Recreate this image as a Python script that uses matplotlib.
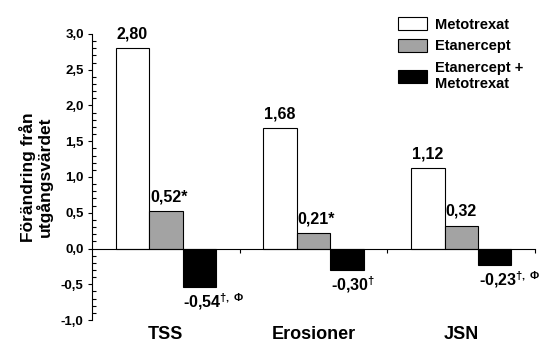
import matplotlib.pyplot as plt
import numpy as np

plt.rcParams['font.family'] = ['Liberation Sans', 'DejaVu Sans']
plt.rcParams['font.weight'] = 'bold'
plt.rcParams['mathtext.fontset'] = 'custom'
plt.rcParams['mathtext.rm'] = 'Liberation Sans:bold'
plt.rcParams['mathtext.bf'] = 'Liberation Sans:bold'

categories = ['TSS', 'Erosioner', 'JSN']
series = ['Metotrexat', 'Etanercept', 'Etanercept +\nMetotrexat']
metotrexat = [2.80, 1.68, 1.12]
etanercept = [0.52, 0.21, 0.32]
kombination = [-0.54, -0.30, -0.23]
labels_mtx = ['2,80', '1,68', '1,12']
labels_eta = ['0,52*', '0,21*', '0,32']
labels_komb = [r'-0,54$^{\dagger,\,\Phi}$', r'-0,30$^{\dagger}$', r'-0,23$^{\dagger,\,\Phi}$']

colors = ['white', '#a3a3a3', 'black']

fig = plt.figure(figsize=(5.51, 3.54), dpi=100)
ax = fig.add_axes([0.167, 0.096, 0.804, 0.808])

x = np.arange(len(categories))
w = 0.226
data = [metotrexat, etanercept, kombination]
texts = [labels_mtx, labels_eta, labels_komb]
for i in range(3):
    pos = x + (i - 1) * w
    ax.bar(pos, data[i], w, color=colors[i], edgecolor='black', linewidth=0.8,
           label=series[i])
    for p, v, t in zip(pos, data[i], texts[i]):
        if v >= 0:
            ax.text(p - w / 2 + 0.005, v + 0.1, t, ha='left', va='bottom',
                    fontsize=11.5, fontweight='bold')
        else:
            ax.text(p - w / 2 + 0.005, v - 0.06, t, ha='left', va='top',
                    fontsize=11.5, fontweight='bold')

ax.set_xlim(-0.5, 2.5)
ax.set_ylim(-1.0, 3.0)
ax.spines['top'].set_visible(False)
ax.spines['right'].set_visible(False)
ax.spines['bottom'].set_position(('data', 0))
ax.spines['left'].set_linewidth(0.8)
ax.spines['bottom'].set_linewidth(0.8)

ax.set_yticks(np.arange(-1.0, 3.01, 0.5))
ax.set_yticklabels([('%.1f' % v).replace('.', ',') for v in np.arange(-1.0, 3.01, 0.5)],
                   fontsize=9.5, fontweight='bold')
ax.set_yticks(np.arange(-1.0, 3.01, 0.1), minor=True)
ax.tick_params(axis='y', which='major', direction='out', length=3, width=0.8, pad=3)
ax.tick_params(axis='y', which='minor', direction='in', length=3, width=0.8)

ax.set_xticks([0.5, 1.5, 2.5])
ax.set_xticklabels([])
ax.tick_params(axis='x', which='major', direction='out', length=3, width=0.8)
for xi, c in zip(x, categories):
    ax.text(xi, -1.08, c, ha='center', va='top', fontsize=13, fontweight='bold',
            transform=ax.transData, clip_on=False)

ax.set_ylabel('Förändring från\nutgångsvärdet', fontsize=12.5, fontweight='bold',
              labelpad=6, linespacing=1.0)

ax.legend(loc='upper left', bbox_to_anchor=(0.66, 1.105), frameon=False,
          handlelength=2.05, handleheight=1.0, labelspacing=0.5, handletextpad=0.5,
          prop={'weight': 'bold', 'size': 10.5})

fig.savefig('out.png', dpi=100)
